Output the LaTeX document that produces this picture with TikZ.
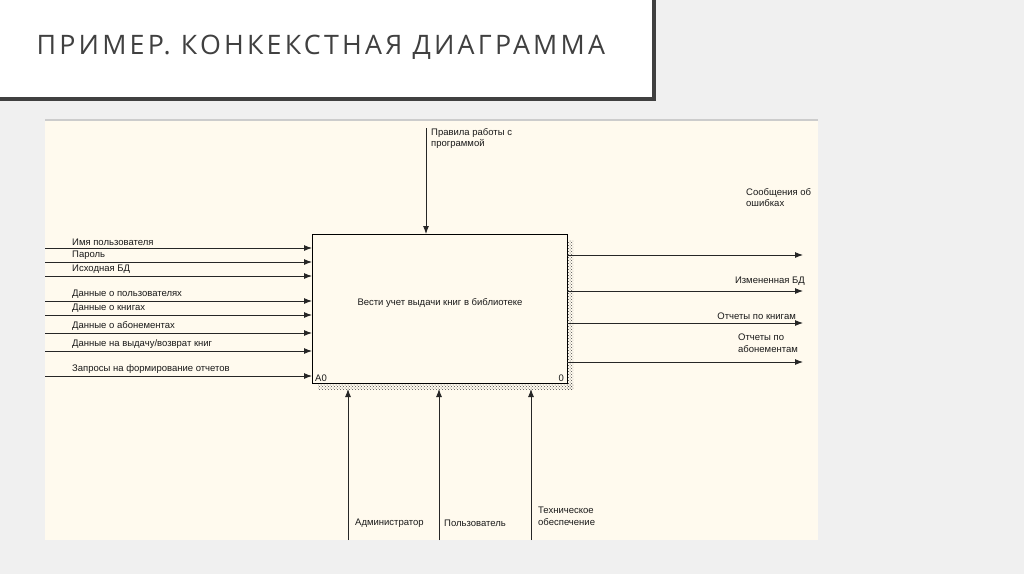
\documentclass[tikz,border=0pt]{standalone}
\usepackage{fontspec}
\setmainfont{Liberation Sans}
\newfontfamily\titlefont[LetterSpace=12]{Open Sans}
\usetikzlibrary{patterns,arrows.meta}
\begin{document}
\begin{tikzpicture}[x=1pt,y=-1pt,
  arr/.style={draw=black!85,line width=0.9pt,-{Latex[length=8pt,width=6pt]}},
  lbl/.style={font=\fontsize{9.5}{11.5}\selectfont,inner sep=0pt,text=black!90,align=left}]
\useasboundingbox (0,0) rectangle (1024,574);
\fill[gray!12] (0,0) rectangle (1024,574);
% title box
\fill[black!75] (0,0) rectangle (656,101);
\fill[white] (0,0) rectangle (652,97);
\node[anchor=west,font=\titlefont\fontsize{26.8}{30}\selectfont,text=black!75] (title) at (33,47) {ПРИМЕР. КОНКЕКСТНАЯ ДИАГРАММА};
% diagram area
\fill[yellow!3!white!97!orange] (45,120) rectangle (818,540);
\draw[gray!40,line width=1.5pt] (45,120) -- (818,120);
% box shadow
\fill[pattern=crosshatch dots,pattern color=black!70] (567,240) rectangle (573,389);
\fill[pattern=crosshatch dots,pattern color=black!70] (318,383) rectangle (573,389);
\node[draw=black,line width=1.3pt,fill=yellow!3!white!97!orange,minimum width=255pt,minimum height=149pt,anchor=north west,inner sep=0pt] (box) at (312,234) {};
\node[lbl] (bt) at (440,303) {Вести учет выдачи книг в библиотеке};
\node[lbl,anchor=south west] (a0) at (315,382) {A0};
\node[lbl,anchor=south east] (z) at (564,382) {0};
% inputs
\foreach \y/\t/\n in {248/{Имя пользователя}/i1,262/{Пароль}/i2,276/{Исходная БД}/i3,301/{Данные о пользователях}/i4,315/{Данные о книгах}/i5,333/{Данные о абонементах}/i6,351/{Данные на выдачу{/}возврат книг}/i7,376/{Запросы на формирование отчетов}/i8}{
  \coordinate (\n s) at (45,\y);
  \coordinate (\n e) at (312,\y);
  \draw[arr] (\n s) -- (\n e);
  \node[lbl,anchor=south west] (\n l) at (72,\y-2) {\t};
}
% control
\coordinate (cs) at (426,128);
\coordinate (ce) at (426,234);
\draw[arr] (cs) -- (ce);
\node[lbl,anchor=north west] (cl) at (431,128) {Правила работы с\\программой};
% outputs
\foreach \y/\n in {255/o1,291/o2,323/o3,362/o4}{
  \coordinate (\n s) at (567,\y);
  \coordinate (\n e) at (803,\y);
  \draw[arr] (\n s) -- (\n e);
}
\node[lbl,anchor=north west] (ol1) at (746,188) {Сообщения об\\ошибках};
\node[lbl,anchor=south east] (ol2) at (805,286) {Измененная БД};
\node[lbl,anchor=south east] (ol3) at (796,320) {Отчеты по книгам};
\node[lbl,anchor=north west] (ol4) at (738,334) {Отчеты по\\абонементам};
% mechanisms
\foreach \x/\n in {348/m1,439/m2,531/m3}{
  \coordinate (\n s) at (\x,540);
  \coordinate (\n e) at (\x,389);
  \draw[arr] (\n s) -- (\n e);
}
\node[lbl,anchor=west] (ml1) at (355,523) {Администратор};
\node[lbl,anchor=west] (ml2) at (444,523) {Пользователь};
\node[lbl,anchor=north west] (ml3) at (538,507) {Техническое\\обеспечение};
\end{tikzpicture}
\end{document}
